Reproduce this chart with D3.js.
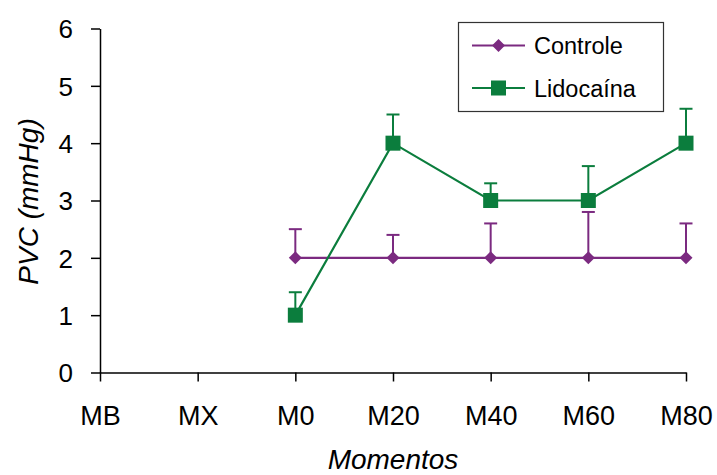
<!DOCTYPE html>
<html>
<head>
<meta charset="utf-8">
<script src="https://cdn.jsdelivr.net/npm/d3@7"></script>
<style>
  html, body { margin: 0; padding: 0; background: #fff; }
  svg { display: block; font-family: "Liberation Sans", Arial, sans-serif; }
</style>
</head>
<body>
<svg id="chart" width="717" height="475"></svg>
<script>
// Moments of measurement
const categories = ["MB", "MX", "M0", "M20", "M40", "M60", "M80"];

// PVC means (mmHg); no readings at MB and MX
const controleValues  = [null, null, 2, 2, 2, 2, 2];
const controleErrors  = [null, null, 0.5, 0.4, 0.6, 0.8, 0.6];
const lidocainaValues = [null, null, 1, 4, 3, 3, 4];
const lidocainaErrors = [null, null, 0.4, 0.5, 0.3, 0.6, 0.6];

const yTicks = [0, 1, 2, 3, 4, 5, 6];
const seriesNames = ["Controle", "Lidocaína"];

const PURPLE = "#7b2a80";
const GREEN = "#0b7d3d";

const svg = d3.select("#chart");

const x = d3.scalePoint().domain(categories).range([100, 686]).padding(0);
const y = d3.scaleLinear().domain([0, 6]).range([372.5, 28.5]);

// Axes
const xAxis = svg.append("g")
  .attr("transform", `translate(0,${y(0)})`)
  .call(d3.axisBottom(x).tickSize(9).tickSizeOuter(0));
xAxis.select(".domain").attr("stroke", "#000").attr("stroke-width", 1.5);
xAxis.selectAll(".tick line").attr("stroke", "#000").attr("stroke-width", 1.5);
xAxis.selectAll(".tick text")
  .attr("y", 52.5).attr("dy", null)
  .attr("fill", "#000")
  .style("font-size", "27px")
  .style("font-family", "'Liberation Sans', Arial, sans-serif");

const yAxis = svg.append("g")
  .attr("transform", `translate(${x(categories[0])},0)`)
  .call(d3.axisLeft(y).tickValues(yTicks).tickFormat(d3.format("d"))
    .tickSize(9).tickSizeOuter(0).tickPadding(18));
yAxis.select(".domain").attr("stroke", "#000").attr("stroke-width", 1.5);
yAxis.selectAll(".tick line").attr("stroke", "#000").attr("stroke-width", 1.5);
yAxis.selectAll(".tick text")
  .attr("fill", "#000")
  .attr("dy", "0.36em")
  .style("font-size", "26px")
  .style("font-family", "'Liberation Sans', Arial, sans-serif");

// Axis titles
svg.append("text")
  .attr("x", (x.range()[0] + x.range()[1]) / 2)
  .attr("y", 469)
  .attr("text-anchor", "middle")
  .style("font-size", "28px")
  .style("font-style", "italic")
  .text("Momentos");

svg.append("text")
  .attr("transform", `translate(38,${(y(0) + y(6)) / 2 + 1}) rotate(-90)`)
  .attr("text-anchor", "middle")
  .style("font-size", "28px")
  .style("font-style", "italic")
  .text("PVC (mmHg)");

// Series
const series = [
  { name: seriesNames[0], values: controleValues, errors: controleErrors, color: PURPLE, shape: "diamond" },
  { name: seriesNames[1], values: lidocainaValues, errors: lidocainaErrors, color: GREEN, shape: "square" }
];

function drawMarker(g, shape, color) {
  if (shape === "square") {
    g.append("rect").attr("x", -7.5).attr("y", -7.5).attr("width", 15).attr("height", 15)
      .attr("fill", color);
  } else {
    g.append("path").attr("d", "M0,-6.5L6.5,0L0,6.5L-6.5,0Z").attr("fill", color);
  }
}

const line = d3.line()
  .defined(d => d.v != null)
  .x(d => x(d.c))
  .y(d => y(d.v));

series.forEach(s => {
  const pts = categories.map((c, i) => ({ c, v: s.values[i], e: s.errors[i] }));
  const valid = pts.filter(d => d.v != null);
  const g = svg.append("g");

  // upper error bars
  const eb = g.selectAll(".eb").data(valid).join("g").attr("class", "eb");
  eb.append("line")
    .attr("x1", d => x(d.c)).attr("x2", d => x(d.c))
    .attr("y1", d => y(d.v)).attr("y2", d => y(d.v + d.e))
    .attr("stroke", s.color).attr("stroke-width", 2);
  eb.append("line")
    .attr("x1", d => x(d.c) - 6.5).attr("x2", d => x(d.c) + 6.5)
    .attr("y1", d => y(d.v + d.e)).attr("y2", d => y(d.v + d.e))
    .attr("stroke", s.color).attr("stroke-width", 2);

  g.append("path").datum(pts)
    .attr("d", line)
    .attr("fill", "none")
    .attr("stroke", s.color)
    .attr("stroke-width", 2.2);

  g.selectAll(".mk").data(valid).join("g").attr("class", "mk")
    .attr("transform", d => `translate(${x(d.c)},${y(d.v)})`)
    .each(function () { drawMarker(d3.select(this), s.shape, s.color); });
});

// Legend
const legend = svg.append("g");
legend.append("rect")
  .attr("x", 458.5).attr("y", 22.5).attr("width", 205).attr("height", 89)
  .attr("fill", "#fff").attr("stroke", "#333").attr("stroke-width", 1.2);

series.forEach((s, i) => {
  const ly = [45.5, 88][i];
  const row = legend.append("g");
  row.append("line").attr("x1", 472).attr("x2", 525).attr("y1", ly).attr("y2", ly)
    .attr("stroke", s.color).attr("stroke-width", 2.2);
  const m = row.append("g").attr("transform", `translate(498.5,${ly})`);
  drawMarker(m, s.shape, s.color);
  row.append("text")
    .attr("x", 534).attr("y", ly + 8.5)
    .style("font-size", "23.5px")
    .attr("fill", "#000")
    .text(s.name);
});
</script>
</body>
</html>
